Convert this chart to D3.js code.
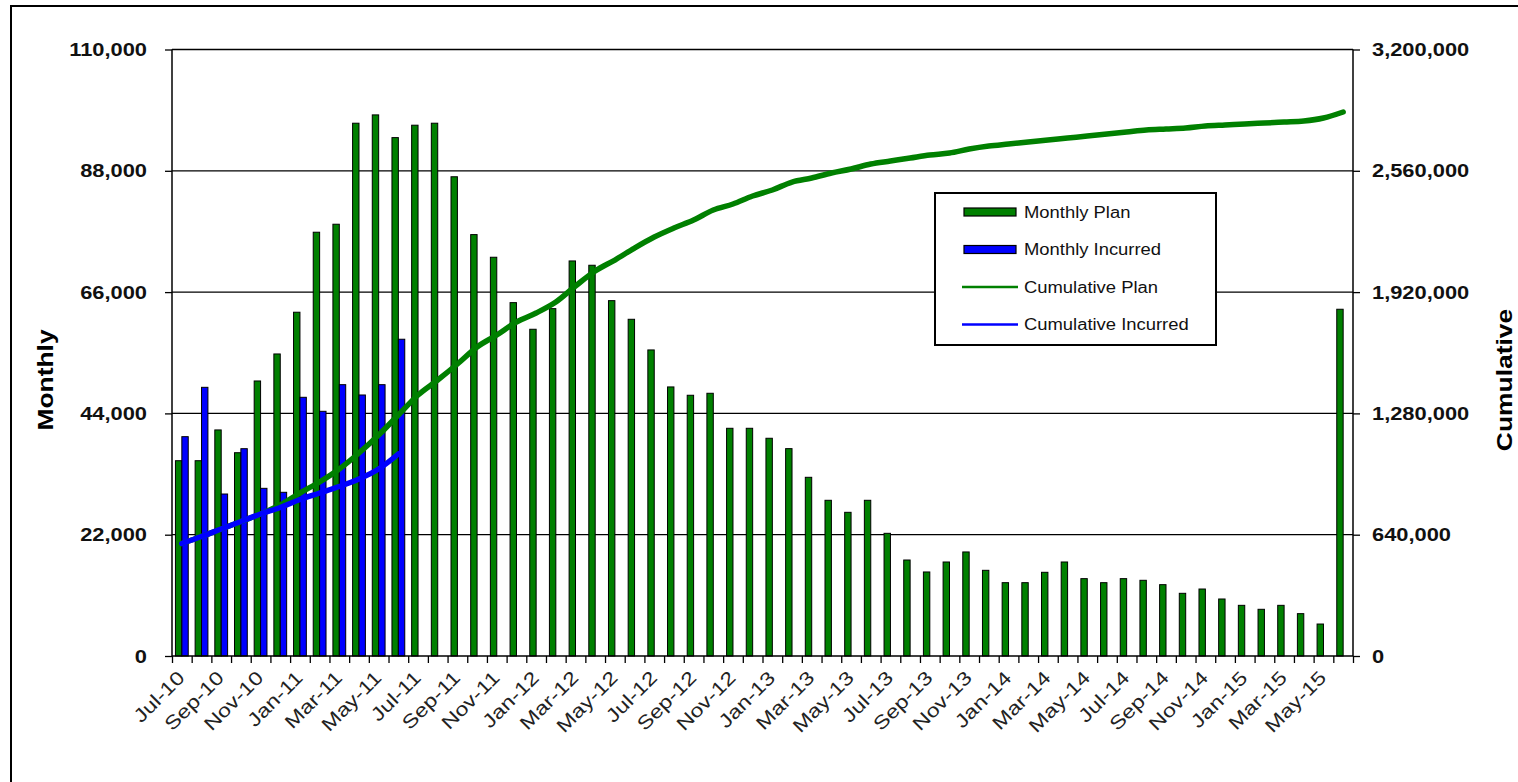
<!DOCTYPE html>
<html>
<head>
<meta charset="utf-8">
<script src="https://cdn.jsdelivr.net/npm/d3@7"></script>
<style>
body{margin:0;background:#fff;}
svg{display:block;font-family:"Liberation Sans",Arial,sans-serif;}
</style>
</head>
<body>
<svg id="chart" width="1518" height="782"></svg>
<script>
var months = ["Jul-10","Aug-10","Sep-10","Oct-10","Nov-10","Dec-10","Jan-11","Feb-11","Mar-11","Apr-11","May-11","Jun-11",
  "Jul-11","Aug-11","Sep-11","Oct-11","Nov-11","Dec-11","Jan-12","Feb-12","Mar-12","Apr-12","May-12","Jun-12",
  "Jul-12","Aug-12","Sep-12","Oct-12","Nov-12","Dec-12","Jan-13","Feb-13","Mar-13","Apr-13","May-13","Jun-13",
  "Jul-13","Aug-13","Sep-13","Oct-13","Nov-13","Dec-13","Jan-14","Feb-14","Mar-14","Apr-14","May-14","Jun-14",
  "Jul-14","Aug-14","Sep-14","Oct-14","Nov-14","Dec-14","Jan-15","Feb-15","Mar-15","Apr-15","May-15","Jun-15"];

var monthlyPlan = [35420,35420,41000,36870,49880,54780,62350,76860,78310,96630,98140,94020,
  96270,96630,86920,76430,72320,64090,59260,63000,71650,70870,64450,61070,
  55510,48800,47290,47650,41300,41300,39490,37610,32410,28240,26060,28240,
  22250,17410,15240,17050,18870,15540,13300,13300,15180,17050,14030,13300,
  14030,13730,12940,11370,12150,10340,9190,8470,9190,7680,5800,62890];

var monthlyIncurred = [39780,48730,29380,37600,30410,29690,46920,44380,49210,47340,49210,57450];

var cumulativePlan = [593600,630500,670100,709600,749200,796700,860000,918000,986600,1071000,1166000,1271500,
  1377000,1456200,1540600,1630300,1693600,1762200,1809700,1867700,1952100,2031300,2089300,2152600,
  2210700,2258100,2300300,2353100,2384700,2427000,2458600,2500800,2521900,2548300,2569400,2595800,
  2611600,2627400,2643300,2653800,2674900,2690800,2701300,2711900,2722400,2733000,2743500,2754100,
  2764600,2775200,2780500,2785700,2796300,2801600,2806800,2812100,2817400,2822700,2838500,2870200];

var cumulativeIncurred = [593600,630500,670100,709600,749200,783500,825700,860000,894300,933900,986600,1065800];

var leftTicks = [0,22000,44000,66000,88000,110000];
var rightTicks = [0,640000,1280000,1920000,2560000,3200000];

var legendItems = [
  {name:"Monthly Plan", kind:"bar", color:"#008000"},
  {name:"Monthly Incurred", kind:"bar", color:"#0000ff"},
  {name:"Cumulative Plan", kind:"line", color:"#008000"},
  {name:"Cumulative Incurred", kind:"line", color:"#0000ff"}
];

var plotLeft = 172, plotRight = 1353, plotTop = 49.5, plotBottom = 656;

var svg = d3.select("#chart");

// stretch text a bit wider, the original looks horizontally scaled
function stretch(sel, k){
  sel.each(function(){
    var w = this.getComputedTextLength();
    d3.select(this).attr("textLength", w*k).attr("lengthAdjust","spacingAndGlyphs");
  });
}

svg.append("rect")
  .attr("x",11).attr("y",6).attr("width",1520).attr("height",820)
  .attr("fill","#fff").attr("stroke","#000").attr("stroke-width",2);

var x0 = d3.scaleBand().domain(months).range([plotLeft,plotRight]).paddingInner(0.35).paddingOuter(0.175);
var x1 = d3.scaleBand().domain(["plan","incurred"]).range([0,x0.bandwidth()]);
var xb = d3.scaleLinear().domain([0,months.length]).range([plotLeft,plotRight]);
var yL = d3.scaleLinear().domain([0,110000]).range([plotBottom,plotTop]);
var yR = d3.scaleLinear().domain([0,3200000]).range([plotBottom,plotTop]);

// gridlines
svg.append("g").selectAll("line")
  .data(leftTicks.slice(1))
  .join("line")
  .attr("x1",plotLeft).attr("x2",plotRight)
  .attr("y1",function(d){return yL(d);}).attr("y2",function(d){return yL(d);})
  .attr("stroke","#000").attr("stroke-width",1.3);

// bars
var bars = svg.append("g").attr("stroke","#000").attr("stroke-width",1);
bars.selectAll("rect.plan")
  .data(monthlyPlan)
  .join("rect").attr("class","plan")
  .attr("x",function(d,i){return x0(months[i]) + x1("plan");})
  .attr("width",x1.bandwidth())
  .attr("y",function(d){return yL(d);})
  .attr("height",function(d){return plotBottom - yL(d);})
  .attr("fill","#008000");
bars.selectAll("rect.inc")
  .data(monthlyIncurred)
  .join("rect").attr("class","inc")
  .attr("x",function(d,i){return x0(months[i]) + x1("incurred");})
  .attr("width",x1.bandwidth())
  .attr("y",function(d){return yL(d);})
  .attr("height",function(d){return plotBottom - yL(d);})
  .attr("fill","#0000ff");

// cumulative lines
function cx(i){ return x0(months[i]) + x0.bandwidth()/2; }
var line = d3.line()
  .x(function(d,i){return cx(i);})
  .y(function(d){return yR(d);})
  .curve(d3.curveMonotoneX);

svg.append("path").datum(cumulativePlan)
  .attr("d",line).attr("fill","none")
  .attr("stroke","#008000").attr("stroke-width",5.5).attr("stroke-linejoin","round").attr("stroke-linecap","round");
svg.append("path").datum(cumulativeIncurred)
  .attr("d",line).attr("fill","none")
  .attr("stroke","#0000ff").attr("stroke-width",5.5).attr("stroke-linejoin","round").attr("stroke-linecap","round");

// axes
var axL = svg.append("g").attr("transform","translate(" + plotLeft + ",0)")
  .call(d3.axisLeft(yL).tickValues(leftTicks).tickSize(7).tickPadding(18).tickFormat(d3.format(",")));
var axR = svg.append("g").attr("transform","translate(" + plotRight + ",0)")
  .call(d3.axisRight(yR).tickValues(rightTicks).tickSize(7).tickPadding(12).tickFormat(d3.format(",")));
var axB = svg.append("g").attr("transform","translate(0," + plotBottom + ")")
  .call(d3.axisBottom(xb).tickValues(d3.range(months.length+1)).tickSize(7).tickFormat(""));

[axL,axR,axB].forEach(function(a){
  a.select(".domain").attr("stroke","#000").attr("stroke-width",1.5);
  a.selectAll(".tick line").attr("stroke","#000").attr("stroke-width",1.3);
});
axB.select(".domain").attr("d","M" + plotLeft + ",0H" + plotRight);
axL.select(".domain").attr("d","M0," + plotTop + "V" + plotBottom);
axR.select(".domain").attr("d","M0," + plotTop + "V" + plotBottom);

[axL,axR].forEach(function(a){
  a.selectAll(".tick text")
    .attr("font-family","'Liberation Sans',Arial,sans-serif")
    .attr("font-size",19).attr("font-weight","bold").attr("fill","#111")
    .call(stretch,1.15);
});

// month labels, every other month
svg.append("g").selectAll("text")
  .data(months.filter(function(d,i){return i % 2 == 0;}))
  .join("text")
  .attr("transform",function(d){
    var i = months.indexOf(d);
    return "translate(" + (cx(i)+4) + ",679) rotate(-45)";
  })
  .attr("text-anchor","end")
  .attr("font-size",19).attr("fill","#222")
  .text(function(d){return d;})
  .call(stretch,1.22);

// axis titles
svg.append("text")
  .attr("transform","translate(53,380) rotate(-90)")
  .attr("text-anchor","middle").attr("font-size",22).attr("font-weight","bold")
  .text("Monthly").call(stretch,1.2);
svg.append("text")
  .attr("transform","translate(1512,380) rotate(-90)")
  .attr("text-anchor","middle").attr("font-size",22).attr("font-weight","bold")
  .text("Cumulative").call(stretch,1.2);

// legend
var lg = svg.append("g").attr("transform","translate(935,193)");
lg.append("rect").attr("width",281).attr("height",152)
  .attr("fill","#fff").attr("stroke","#000").attr("stroke-width",2);
var item = lg.selectAll("g.item").data(legendItems).join("g")
  .attr("transform",function(d,i){return "translate(0," + (19 + i*37.5) + ")";});
item.filter(function(d){return d.kind == "bar";}).append("rect")
  .attr("x",29).attr("y",-4).attr("width",52).attr("height",8)
  .attr("fill",function(d){return d.color;}).attr("stroke","#000").attr("stroke-width",1.2);
item.filter(function(d){return d.kind == "line";}).append("line")
  .attr("x1",27).attr("x2",83).attr("y1",0).attr("y2",0)
  .attr("stroke",function(d){return d.color;}).attr("stroke-width",2.5);
item.append("text").attr("x",89).attr("y",0).attr("dy","0.35em")
  .attr("font-size",16).attr("fill","#111")
  .text(function(d){return d.name;})
  .call(stretch,1.15);
</script>
</body>
</html>
